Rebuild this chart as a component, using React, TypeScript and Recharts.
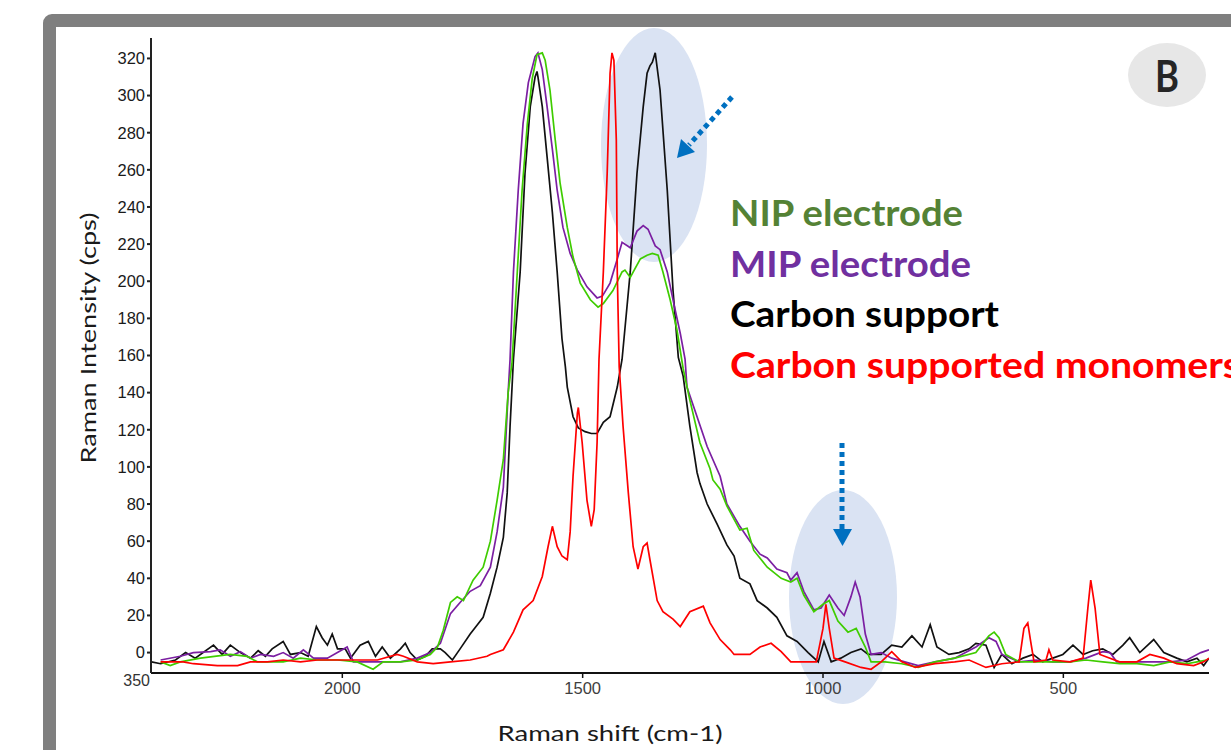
import { LineChart, Line, XAxis, YAxis } from 'recharts';

// Raman spectra (shift in cm-1, intensity in cps)
const carbonShift = [2397, 2378, 2347, 2326, 2306, 2268, 2250, 2233, 2212, 2191, 2175, 2160, 2146, 2123, 2108, 2087, 2071, 2054, 2042, 2031, 2021, 2010, 1994, 1983, 1963, 1946, 1931, 1917, 1900, 1879, 1869, 1859, 1844, 1827, 1813, 1796, 1786, 1771, 1755, 1734, 1719, 1707, 1692, 1678, 1665, 1657, 1651, 1644, 1630, 1620, 1609, 1599, 1595, 1593, 1584, 1574, 1563, 1553, 1543, 1536, 1532, 1520, 1509, 1495, 1482, 1470, 1457, 1443, 1428, 1418, 1401, 1387, 1374, 1366, 1360, 1355, 1349, 1339, 1324, 1312, 1301, 1291, 1277, 1262, 1256, 1241, 1220, 1200, 1185, 1173, 1152, 1137, 1116, 1096, 1075, 1054, 1031, 1010, 998, 983, 963, 942, 921, 906, 879, 857, 836, 815, 794, 777, 763, 738, 717, 696, 682, 661, 644, 628, 607, 584, 563, 543, 522, 501, 480, 459, 439, 418, 397, 376, 362, 341, 312, 291, 264, 243, 222, 208, 197];
const carbonIntensity = [-5, -6, -4, 0, -3, 4, -1, 4, 0, -3, 1, -2, 2, 6, -1, 0, -2, 14, 8, 4, 10, 2, 2, -3, 4, 6, -2, 3, -3, 2, 5, 0, -4, -2, 2, 2, 0, -4, 2, 10, 15, 19, 32, 46, 62, 86, 122, 158, 205, 258, 294, 310, 313, 310, 294, 267, 237, 205, 169, 154, 143, 127, 121, 119, 118, 118, 124, 127, 143, 158, 205, 258, 294, 312, 316, 318, 323, 303, 249, 195, 159, 149, 122, 97, 91, 80, 69, 58, 52, 40, 37, 28, 24, 19, 9, 6, 0, -5, 6, -5, -3, 0, 2, -1, -1, 4, 3, 9, 3, 15, 3, -1, 0, 2, 5, 4, -8, -1, -6, -3, -1, -5, -3, -1, 4, -1, 1, 2, -1, 4, 8, 0, 7, 0, -3, -5, -3, -7, -3];

const nipShift = [2378, 2358, 2337, 2295, 2233, 2198, 2177, 2123, 2087, 2052, 2010, 1969, 1936, 1915, 1879, 1844, 1817, 1802, 1790, 1775, 1761, 1748, 1728, 1707, 1692, 1678, 1665, 1655, 1647, 1636, 1626, 1615, 1605, 1595, 1584, 1578, 1568, 1557, 1547, 1532, 1520, 1505, 1484, 1468, 1457, 1437, 1418, 1412, 1401, 1380, 1366, 1355, 1343, 1333, 1318, 1304, 1291, 1277, 1256, 1235, 1229, 1214, 1200, 1173, 1158, 1144, 1116, 1087, 1067, 1054, 1040, 1019, 1000, 987, 969, 948, 931, 912, 900, 871, 836, 802, 767, 726, 682, 655, 644, 634, 620, 592, 557, 522, 486, 453, 418, 383, 347, 312, 278, 243, 222, 202];
const nipIntensity = [-5, -7, -5, -3, -1, -2, -5, -5, -3, -4, -4, -5, -9, -5, -5, -4, -1, 3, 12, 27, 30, 28, 39, 46, 60, 82, 104, 140, 156, 205, 249, 285, 309, 322, 323, 319, 303, 276, 253, 229, 213, 199, 190, 186, 188, 195, 205, 206, 202, 212, 214, 215, 214, 205, 190, 174, 153, 136, 113, 99, 93, 88, 79, 66, 67, 55, 46, 40, 38, 40, 31, 22, 26, 28, 17, 11, 13, 3, -5, -5, -6, -8, -5, -3, 0, 9, 11, 8, -1, -5, -5, -5, -5, -4, -5, -6, -6, -7, -5, -6, -5, -4];

const mipShift = [2378, 2337, 2310, 2274, 2254, 2233, 2212, 2191, 2170, 2143, 2123, 2102, 2081, 2060, 2031, 1990, 1977, 1948, 1915, 1879, 1844, 1817, 1796, 1775, 1755, 1734, 1713, 1692, 1678, 1665, 1655, 1651, 1644, 1634, 1624, 1613, 1599, 1593, 1584, 1574, 1563, 1553, 1541, 1526, 1511, 1491, 1470, 1459, 1443, 1428, 1418, 1401, 1387, 1374, 1364, 1349, 1339, 1324, 1312, 1297, 1287, 1283, 1262, 1241, 1214, 1200, 1173, 1152, 1131, 1116, 1096, 1075, 1067, 1054, 1040, 1019, 1004, 987, 969, 956, 942, 933, 923, 912, 900, 879, 857, 830, 802, 767, 726, 682, 655, 640, 628, 592, 557, 522, 486, 453, 418, 403, 389, 347, 312, 278, 243, 214, 197];
const mipIntensity = [-4, -2, 0, 0.5, 1.5, -2, 0.5, -3, -1, -2, 0, -3, 1.5, -3, -3, 3, -5, -5, -5, -5, -3, 0, 5, 21, 27, 33, 36, 46, 65, 89, 140, 158, 205, 249, 285, 307, 321, 323, 314, 294, 271, 249, 229, 215, 206, 197, 191, 192, 199, 212, 221, 218, 227, 230, 228, 219, 217, 205, 190, 172, 158, 143, 127, 111, 95, 80, 68, 60, 53, 51, 45, 43, 39, 43, 33, 23, 24, 31, 24, 20, 30, 38, 30, 10, -1, 0, -3, -5, -7, -5, -3, 3, 8, 6, -1, -5, -4, -5, -5, -3, 0.5, 0, -5, -5, -5, -5, -4, 0, 1.5];

const monomerShift = [2378, 2331, 2310, 2260, 2218, 2191, 2156, 2123, 2087, 2052, 2010, 1969, 1927, 1886, 1873, 1844, 1811, 1775, 1734, 1699, 1692, 1665, 1644, 1624, 1603, 1584, 1572, 1563, 1553, 1543, 1532, 1526, 1520, 1511, 1509, 1501, 1491, 1482, 1476, 1470, 1466, 1457, 1449, 1443, 1439, 1435, 1430, 1428, 1424, 1416, 1405, 1395, 1385, 1374, 1366, 1360, 1345, 1333, 1312, 1297, 1277, 1249, 1235, 1214, 1193, 1185, 1152, 1131, 1108, 1087, 1067, 1040, 1014, 1000, 994, 987, 977, 954, 921, 900, 879, 857, 836, 808, 767, 726, 696, 661, 628, 592, 582, 574, 568, 561, 536, 530, 522, 486, 459, 449, 443, 434, 424, 383, 347, 320, 291, 264, 229, 208, 197];
const monomerIntensity = [-5, -5, -6, -7, -7, -5, -5, -4, -5, -4, -4, -4, -4, -1, -2, -5, -6, -5, -4, -2, -1, 1.5, 11, 23, 28, 41, 57, 68, 57, 52, 50, 65, 95, 129, 132, 113, 82, 68, 77, 113, 158, 205, 258, 312, 323, 319, 276, 205, 154, 122, 86, 57, 45, 57, 59, 50, 28, 22, 18, 14, 22, 25, 16, 7, 1.5, -1, -1, 3, 5, 0.5, -5, -5, -5, 13, 26, 13, -3, -5, -8, -9, -5, 0.5, -5, -8, -6, -5, -4, -8, -6, -5, 13, 16, 6, -5, -4, 1.5, -4, -5, -3, 24, 39, 24, -1, -5, -5, -1, -3, -6, -7, -5, -3];

const yTicks = [0, 20, 40, 60, 80, 100, 120, 140, 160, 180, 200, 220, 240, 260, 280, 300, 320];
const xTicks = [2000, 1500, 1000, 500];

const legendItems = [
  { label: 'NIP electrode', color: '#548235', width: 233 },
  { label: 'MIP electrode', color: '#7030a0', width: 241 },
  { label: 'Carbon support', color: '#000000', width: 269 },
  { label: 'Carbon supported monomers', color: '#ff0000', width: 510 },
];

const toPoints = (shift: number[], intensity: number[]) =>
  shift.map((s, i) => ({ shift: s, value: intensity[i] }));

const carbonData = toPoints(carbonShift, carbonIntensity);
const nipData = toPoints(nipShift, nipIntensity);
const mipData = toPoints(mipShift, mipIntensity);
const monomerData = toPoints(monomerShift, monomerIntensity);

const tickFont = { fontFamily: '"Liberation Sans", Arial, sans-serif', fontSize: 16.5 };

export default function App() {
  return (
    <div style={{ position: 'absolute', left: 0, top: 0, width: 1231, height: 750, overflow: 'hidden', background: '#fff' }}>
      {/* grey slide frame */}
      <div
        style={{
          position: 'absolute',
          left: 43,
          top: 14,
          width: 1400,
          height: 900,
          border: '13px solid #7f7f7f',
          borderRadius: 9,
          boxSizing: 'border-box',
          background: '#fff',
        }}
      />

      {/* annotations behind the chart */}
      <svg width={1231} height={750} style={{ position: 'absolute', left: 0, top: 0 }}>
        <ellipse cx={654} cy={145} rx={53} ry={117} fill="#dae3f3" />
        <ellipse cx={843} cy={597} rx={54} ry={107} fill="#dae3f3" />

        <line x1={732} y1={97} x2={689} y2={145} stroke="#0070c0" strokeWidth={5} strokeDasharray="5 4" />
        <polygon points="677,158 695,152 681,139" fill="#0070c0" />
        <line x1={842} y1={443} x2={842} y2={529} stroke="#0070c0" strokeWidth={5} strokeDasharray="5 4" />
        <polygon points="833,529 852,529 842.5,546" fill="#0070c0" />

        <ellipse cx={1167} cy={75} rx={39} ry={32} fill="#e7e7e7" />
        <text x={1167} y={92} textAnchor="middle" fontFamily="Lato, sans-serif" fontWeight={700} fontSize={44} fill="#262626" textLength={24} lengthAdjust="spacingAndGlyphs">
          B
        </text>

        {legendItems.map((item, i) => (
          <text
            key={item.label}
            x={730}
            y={226 + i * 50.5}
            fontFamily="Lato, sans-serif"
            fontWeight={700}
            fontSize={36}
            fill={item.color}
            textLength={item.width}
            lengthAdjust="spacingAndGlyphs"
          >
            {item.label}
          </text>
        ))}

        <text
          transform="translate(87,338) rotate(-90)"
          textAnchor="middle"
          dominantBaseline="central"
          fontFamily="Lato, sans-serif"
          fontSize={22}
          fill="#1a1a1a"
          textLength={251}
          lengthAdjust="spacingAndGlyphs"
        >
          Raman Intensity (cps)
        </text>
        <text x={610} y={741} textAnchor="middle" fontFamily="Lato, sans-serif" fontSize={22} fill="#1a1a1a" textLength={225} lengthAdjust="spacingAndGlyphs">
          Raman shift (cm-1)
        </text>

        {/* leftover corner tick label */}
        <text x={150} y={686} textAnchor="end" fontFamily='"Liberation Sans", Arial, sans-serif' fontSize={16} fill="#333">
          350
        </text>
      </svg>

      <div style={{ position: 'absolute', left: 0, top: 0 }}>
        <LineChart width={1231} height={750} margin={{ top: 38, right: 22, bottom: 47, left: 91 }}>
          <XAxis
            type="number"
            dataKey="shift"
            domain={[197, 2398]}
            reversed
            allowDataOverflow
            ticks={xTicks}
            height={30}
            tickSize={5}
            tickMargin={4}
            axisLine={{ stroke: '#111', strokeWidth: 2 }}
            tickLine={{ stroke: '#111', strokeWidth: 1.5 }}
            tick={{ ...tickFont, fill: '#404040' }}
          />
          <YAxis
            type="number"
            domain={[-11, 331]}
            allowDataOverflow
            ticks={yTicks}
            width={60}
            tickSize={4}
            tickMargin={2}
            axisLine={{ stroke: '#222', strokeWidth: 2 }}
            tickLine={{ stroke: '#222', strokeWidth: 2 }}
            tick={{ ...tickFont, fill: '#1a1a1a' }}
          />
          <Line data={carbonData} dataKey="value" type="linear" stroke="#111111" strokeWidth={1.7} dot={false} isAnimationActive={false} />
          <Line data={mipData} dataKey="value" type="linear" stroke="#7b1fa2" strokeWidth={1.7} dot={false} isAnimationActive={false} />
          <Line data={nipData} dataKey="value" type="linear" stroke="#3fcc00" strokeWidth={1.7} dot={false} isAnimationActive={false} />
          <Line data={monomerData} dataKey="value" type="linear" stroke="#ff0000" strokeWidth={1.7} dot={false} isAnimationActive={false} />
        </LineChart>
      </div>
    </div>
  );
}
